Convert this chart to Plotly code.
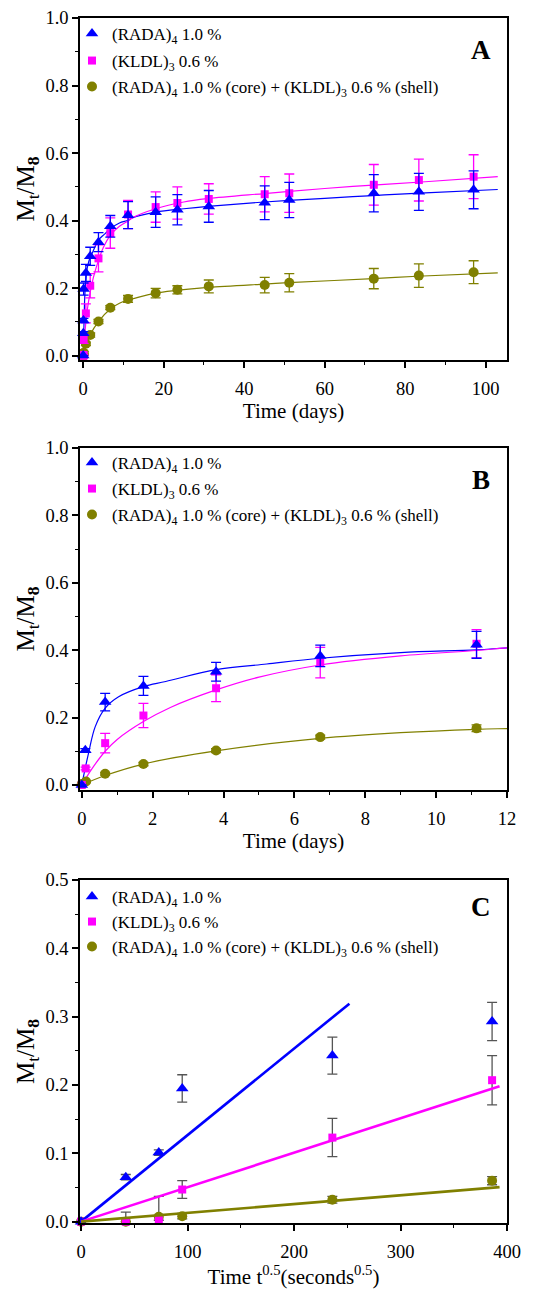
import plotly.graph_objects as go

# ---------------- data ----------------
# Panel A (days)
a_days = [0, 0.02, 0.06, 0.1, 0.66, 1.74, 3.79, 6.73, 11.14, 18, 23.4, 31.2, 45.1, 51.2, 72.2, 83.4, 97]
a_rada = [0, 0.066, 0.104, 0.197, 0.245, 0.294, 0.336, 0.383, 0.416, 0.425, 0.432, 0.442, 0.453, 0.461, 0.481, 0.485, 0.491]
a_rada_err = [0, 0.005, 0.006, 0.018, 0.025, 0.027, 0.028, 0.032, 0.04, 0.045, 0.045, 0.047, 0.05, 0.052, 0.055, 0.055, 0.056]
a_kldl = [0, 0, 0.002, 0.049, 0.125, 0.207, 0.288, 0.363, 0.418, 0.44, 0.452, 0.464, 0.478, 0.481, 0.506, 0.52, 0.53]
a_kldl_err = [0, 0, 0, 0.013, 0.028, 0.036, 0.04, 0.045, 0.042, 0.045, 0.048, 0.045, 0.052, 0.057, 0.06, 0.062, 0.065]
a_cs = [0, 0, 0.007, 0.008, 0.035, 0.061, 0.101, 0.142, 0.168, 0.185, 0.195, 0.205, 0.209, 0.216, 0.228, 0.237, 0.247]
a_cs_err = [0, 0.005, 0.006, 0.004, 0.005, 0.006, 0.006, 0.006, 0.01, 0.014, 0.012, 0.019, 0.023, 0.027, 0.03, 0.035, 0.034]

# Panel B (days, first 12 days)
b_rada_days = [0, 0.1, 0.66, 1.74, 3.79, 6.73, 11.14]
b_rada = [0, 0.103, 0.246, 0.294, 0.336, 0.383, 0.416]
b_rada_err = [0, 0.005, 0.026, 0.028, 0.028, 0.032, 0.04]
b_kldl_days = [0, 0.11, 0.66, 1.74, 3.79, 6.73, 11.14]
b_kldl = [0, 0.049, 0.124, 0.206, 0.287, 0.363, 0.419]
b_kldl_err = [0, 0.004, 0.029, 0.036, 0.04, 0.045, 0.042]
b_cs_days = [0, 0.12, 0.66, 1.74, 3.79, 6.73, 11.14]
b_cs = [0.003, 0.01, 0.033, 0.062, 0.102, 0.142, 0.168]
b_cs_err = [0, 0.003, 0.004, 0.005, 0.006, 0.006, 0.01]

# Fitted release curves (days)
fit_rada_days = [0, 0.19, 0.38, 0.66, 1.04, 1.74, 2.37, 3.79, 5.22, 6.73, 9.0, 11.14, 12.2, 18, 25, 31, 45, 60, 72, 85, 103]
fit_rada = [0, 0.094, 0.173, 0.228, 0.262, 0.292, 0.307, 0.342, 0.359, 0.376, 0.393, 0.401, 0.408, 0.425, 0.435, 0.442, 0.455, 0.466, 0.474, 0.482, 0.492]
fit_kldl_days = [0, 0.3, 0.66, 1.0, 1.74, 2.5, 3.79, 5.0, 6.73, 9.0, 11.14, 12.2, 18, 25, 31, 45, 60, 72, 85, 103]
fit_kldl = [0, 0.05, 0.10, 0.135, 0.188, 0.23, 0.282, 0.32, 0.356, 0.383, 0.399, 0.408, 0.435, 0.455, 0.465, 0.48, 0.495, 0.505, 0.515, 0.53]
fit_cs_days = [0, 0.66, 1.74, 3.79, 6.73, 9.0, 11.14, 12.2, 18, 23, 31, 45, 51, 72, 83, 103]
fit_cs = [0, 0.028, 0.062, 0.101, 0.138, 0.155, 0.165, 0.168, 0.185, 0.193, 0.202, 0.212, 0.216, 0.228, 0.235, 0.245]

# Panel C (sqrt seconds)
c_sqrt_t = [0, 42, 73, 95, 236, 386]
c_rada = [0, 0.065, 0.101, 0.195, 0.243, 0.293]
c_rada_err = [0, 0.004, 0.004, 0.02, 0.027, 0.028]
c_kldl = [0, 0.0, 0.002, 0.047, 0.123, 0.207]
c_kldl_err = [0, 0.014, 0.0, 0.013, 0.028, 0.036]
c_cs = [0, 0.0, 0.007, 0.008, 0.032, 0.060]
c_cs_err = [0, 0.0, 0.03, 0.004, 0.005, 0.006]
# linear fits in panel C
c_fit_rada_x = [0, 252]
c_fit_rada_y = [0, 0.319]
c_fit_kldl_x = [0, 393]
c_fit_kldl_y = [0, 0.198]
c_fit_cs_x = [0, 393]
c_fit_cs_y = [0, 0.0505]

names = ["(RADA)<sub>4</sub> 1.0 %", "(KLDL)<sub>3</sub> 0.6 %",
         "(RADA)<sub>4</sub> 1.0 % (core) + (KLDL)<sub>3</sub> 0.6 % (shell)"]
colors = ["#0000FF", "#FF00FF", "#808000"]
symbols = ["triangle-up", "square", "circle"]
msizes = [11, 8, 10]

FONT = "Liberation Serif"

fig = go.Figure()

def add_points(xa, ya, x, y, err, k, legend, errcolor=None):
    fig.add_trace(go.Scatter(
        x=x, y=y, mode="markers", name=names[k], legend=legend,
        marker=dict(symbol=symbols[k], size=msizes[k], color=colors[k], line=dict(width=0)),
        error_y=dict(type="data", array=err, color=errcolor or colors[k], thickness=1.3, width=5),
        xaxis=xa, yaxis=ya, cliponaxis=False))

def add_line(xa, ya, x, y, k, width=1.2, shape="spline"):
    fig.add_trace(go.Scatter(
        x=x, y=y, mode="lines", showlegend=False, hoverinfo="skip",
        line=dict(color=colors[k], width=width, shape=shape),
        xaxis=xa, yaxis=ya))

# Panel A
add_line("x", "y", fit_rada_days, fit_rada, 0)
add_line("x", "y", fit_kldl_days, fit_kldl, 1)
add_line("x", "y", fit_cs_days, fit_cs, 2)
add_points("x", "y", a_days, a_cs, a_cs_err, 2, "legend3")
add_points("x", "y", a_days, a_kldl, a_kldl_err, 1, "legend2")
add_points("x", "y", a_days, a_rada, a_rada_err, 0, "legend")

# Panel B
add_line("x2", "y2", fit_rada_days, fit_rada, 0)
add_line("x2", "y2", fit_kldl_days, fit_kldl, 1)
add_line("x2", "y2", fit_cs_days, fit_cs, 2)
add_points("x2", "y2", b_cs_days, b_cs, b_cs_err, 2, "legend6")
add_points("x2", "y2", b_kldl_days, b_kldl, b_kldl_err, 1, "legend5")
add_points("x2", "y2", b_rada_days, b_rada, b_rada_err, 0, "legend4")

# Panel C
add_points("x3", "y3", c_sqrt_t, c_cs, c_cs_err, 2, "legend9", "#555555")
add_points("x3", "y3", c_sqrt_t, c_kldl, c_kldl_err, 1, "legend8", "#555555")
add_points("x3", "y3", c_sqrt_t, c_rada, c_rada_err, 0, "legend7", "#555555")
add_line("x3", "y3", c_fit_rada_x, c_fit_rada_y, 0, width=2.6, shape="linear")
add_line("x3", "y3", c_fit_kldl_x, c_fit_kldl_y, 1, width=2.6, shape="linear")
add_line("x3", "y3", c_fit_cs_x, c_fit_cs_y, 2, width=2.6, shape="linear")

def axis(**kw):
    d = dict(showline=True, linecolor="black", linewidth=1.6, mirror=True,
             ticks="outside", ticklen=6, tickwidth=1.5, tickcolor="black",
             showgrid=False, zeroline=False, automargin=False,
             tickfont=dict(family=FONT, size=18.5, color="black"))
    d.update(kw)
    return d

def minor(dt):
    return dict(ticks="outside", ticklen=3.5, tickwidth=1.3, tickcolor="black", dtick=dt, showgrid=False)

# the page body adds an 8px offset; compensate so the plot areas land where the reference has them
OFF = 8
W, H = 550 - OFF, 1289 - OFF
T, B = 18 - OFF, 66
L, R = 80 - OFF, 43
ph = H - T - B
def py2paper(py):
    return (H - B - (py - OFF)) / ph
def dom(top_px, bot_px):
    return [py2paper(bot_px), py2paper(top_px)]

ytitle = dict(text="M<sub>t</sub>/M<sub><b>8</b></sub>", font=dict(family=FONT, size=25, color="black"), standoff=4)
xfont = dict(family=FONT, size=21, color="black")

fig.update_layout(
    width=W, height=H,
    margin=dict(l=L, r=R, t=T, b=B, autoexpand=False),
    paper_bgcolor="white", plot_bgcolor="white",
    showlegend=True,
    xaxis=axis(domain=[0, 1], anchor="y", range=[-0.8, 105.3], tick0=0, dtick=20, minor=minor(10),
               ticklabelstandoff=5, title=dict(text="Time (days)", font=xfont, standoff=0)),
    yaxis=axis(domain=dom(18, 360), anchor="x", range=[-0.013, 1.0], tick0=0, dtick=0.2, tickformat=".1f",
               minor=minor(0.1), title=ytitle),
    xaxis2=axis(domain=[0, 1], anchor="y2", range=[-0.05, 12], tick0=0, dtick=2, minor=minor(1),
                ticklabelstandoff=5, title=dict(text="Time (days)", font=xfont, standoff=0)),
    yaxis2=axis(domain=dom(448, 790), anchor="x2", range=[-0.015, 1.0], tick0=0, dtick=0.2, tickformat=".1f",
                minor=minor(0.1), title=ytitle),
    xaxis3=axis(domain=[0, 1], anchor="y3", range=[-1, 400], tick0=0, dtick=100, minor=minor(50),
                ticklabelstandoff=5,
                title=dict(text="Time t<sup>0.5</sup>(seconds<sup>0.5</sup>)", font=xfont, standoff=4)),
    yaxis3=axis(domain=dom(880, 1223), anchor="x3", range=[-0.002, 0.5], tick0=0, dtick=0.1, tickformat=".1f",
                minor=minor(0.05), title=ytitle),
)

# legends: one per row, positioned at the reference rows
rows = {
    "legend": 34, "legend2": 61, "legend3": 87,
    "legend4": 463, "legend5": 489, "legend6": 515,
    "legend7": 897, "legend8": 922, "legend9": 947,
}
for key, py in rows.items():
    fig.update_layout(**{key: dict(
        x=(72 - 80) / 427, xanchor="left",
        y=py2paper(py), yanchor="middle",
        bgcolor="rgba(0,0,0,0)", borderwidth=0,
        font=dict(family=FONT, size=17, color="black"),
        itemsizing="trace", tracegroupgap=0)})

# panel letters
for xr, yr, letter, yd in [("x", "y", "A", 0.906), ("x2", "y2", "B", 0.906), ("x3", "y3", "C", 0.922)]:
    fig.add_annotation(xref=f"{xr} domain", yref=f"{yr} domain", x=0.94, y=yd,
                       text=f"<b>{letter}</b>", showarrow=False,
                       font=dict(family=FONT, size=27, color="black"),
                       xanchor="center", yanchor="middle")

fig.write_html("out.html")
